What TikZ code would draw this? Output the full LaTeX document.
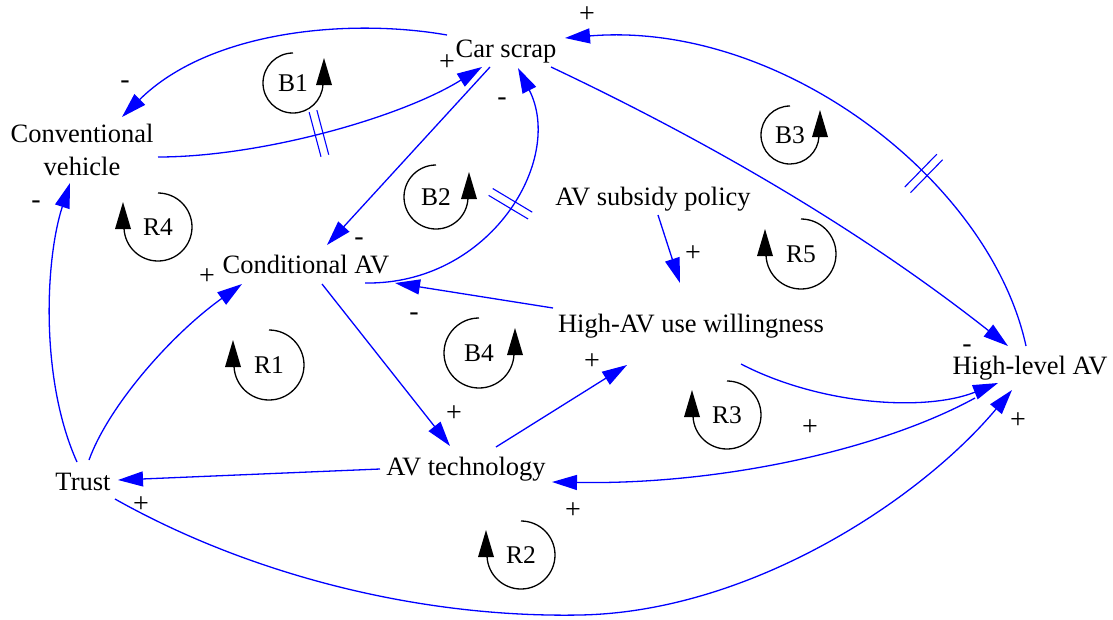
\documentclass[tikz,border=0pt]{standalone}
\usepackage{fontspec}
\setmainfont{Liberation Serif}
\usetikzlibrary{arrows.meta,decorations.markings}

\tikzset{
  var/.style={inner sep=0pt, anchor=base, font=\fontsize{26.5}{33}\selectfont},
  pol/.style={inner sep=0pt, font=\fontsize{28}{32}\selectfont},
  link/.style={draw=blue, line width=1.3pt, -{Triangle[length=25pt,width=15pt]}},
  delaymark/.style={postaction={decorate}, decoration={markings,
      mark=at position #1 with {\draw[blue, line width=1.1pt, -] (-4,-23) -- (-4,23) (4,-23) -- (4,23);}}},
  loopline/.style={draw=black, line width=1.3pt},
  looplabel/.style={inner sep=0pt, font=\fontsize{25.5}{30}\selectfont},
  % balancing loop: counter-clockwise with the head on the right
  pics/bloop/.style args={#1/#2}{code={
      \draw[loopline] (90:#1pt) arc[start angle=90, end angle=357, radius=#1pt];
      \fill (#1pt,0pt) ++(-7pt,-2pt) -- ++(16pt,0pt) -- ++(-8pt,27pt) -- cycle;
      \node[looplabel] (-lbl) {#2};
  }},
  % reinforcing loop: clockwise with the head on the left
  pics/rloop/.style args={#1/#2}{code={
      \draw[loopline] (90:#1pt) arc[start angle=90, end angle=-177, radius=#1pt];
      \fill (-#1pt,0pt) ++(-9pt,-2pt) -- ++(16pt,0pt) -- ++(-8pt,27pt) -- cycle;
      \node[looplabel] (-lbl) {#2};
  }}
}

\begin{document}
\begin{tikzpicture}[x=1pt, y=-1pt]
\useasboundingbox (0,0) rectangle (1113,619);
\fill[white] (0,0) rectangle (1113,619);

% variables
\node[var] (cs)  at (506,57)  {Car scrap};
\node[inner sep=0pt, align=center, font=\fontsize{26.5}{33}\selectfont] (cv) at (82,150) {Conventional\\vehicle};
\node[var] (cav) at (306,273) {Conditional AV};
\node[var] (sub) at (653,205) {AV subsidy policy};
\node[var] (w)   at (691,332) {High-AV use willingness};
\node[var] (hl)  at (1030,374) {High-level AV};
\node[var] (t)   at (83,490)  {Trust};
\node[var] (avt) at (466,475) {AV technology};

% causal links
\draw[link] ([shift={(-59,-22)}]cs.base) .. controls +(-97,-17) and +(88,-87) .. ([shift={(40,-33)}]cv.center);
\draw[link, delaymark=0.48] ([shift={(76,7)}]cv.center) .. controls +(102,0) and +(-82,51) .. ([shift={(-24,10)}]cs.base);
\draw[link] ([shift={(-16,10)}]cs.base) -- ([shift={(21,-28)}]cav.base);
\draw[link, delaymark=0.55] ([shift={(59,10)}]cav.base) .. controls +(125,2) and +(47,92) .. ([shift={(12,11)}]cs.base);
\draw[link] ([shift={(45,10)}]cs.base) .. controls +(165,78) and +(-142,-112) .. ([shift={(-22,-28)}]hl.base);
\draw[link, delaymark=0.34] ([shift={(-4,-28)}]hl.base) .. controls +(-36,-166) and +(215,-18) .. ([shift={(59,-19)}]cs.base);
\draw[link] ([shift={(5,10)}]sub.base) -- ([shift={(-11,-49)}]w.base);
\draw[link] ([shift={(-138,-24)}]w.base) -- ([shift={(89,10)}]cav.base);
\draw[link] ([shift={(50,32)}]w.base) .. controls +(79,41) and +(-73,29) .. ([shift={(-32,9)}]hl.base);
\draw[link] ([shift={(-6,-28)}]t.base) .. controls +(-37,-82) and +(-25,77) .. ([shift={(-12,33)}]cv.center);
\draw[link] ([shift={(6,-30)}]t.base) .. controls +(20,-55) and +(-70,50) .. ([shift={(-64,11)}]cav.base);
\draw[link] ([shift={(16,11)}]cav.base) -- ([shift={(-16,-29)}]avt.base);
\draw[link] ([shift={(30,-28)}]avt.base) -- ([shift={(-64,33)}]w.base);
\draw[link] ([shift={(-86,-6)}]avt.base) -- ([shift={(35,-10)}]t.base);
\draw[link] ([shift={(-55,24)}]hl.base) .. controls +(-95,52) and +(168,3) .. ([shift={(86,7)}]avt.base);
\draw[link] ([shift={(32,9)}]t.base) .. controls +(135,76) and +(-160,3) .. (580,615)
            .. controls +(170,-3) and +(-92,110) .. ([shift={(-18,16)}]hl.base);

% polarities
\node[pol] (p1)  at (587,15)  {+};
\node[pol] (p2)  at (125,85)  {-};
\node[pol] (p3)  at (447,63)  {+};
\node[pol] (p4)  at (502,102) {-};
\node[pol] (p5)  at (36,205)  {-};
\node[pol] (p6)  at (359,242) {-};
\node[pol] (p7)  at (207,277) {+};
\node[pol] (p8)  at (693,254) {+};
\node[pol] (p9)  at (414,317) {-};
\node[pol] (p10) at (592,362) {+};
\node[pol] (p11) at (967,349) {-};
\node[pol] (p12) at (454,414) {+};
\node[pol] (p13) at (810,428) {+};
\node[pol] (p14) at (1018,421) {+};
\node[pol] (p15) at (573,511) {+};
\node[pol] (p16) at (141,505) {+};

% loop identifiers
\pic (b1) at (293,83)  {bloop=30/B1};
\pic (b2) at (436,197) {bloop=32/B2};
\pic (b3) at (790,135) {bloop=29/B3};
\pic (b4) at (479,353) {bloop=35/B4};
\pic (r1) at (269,365) {rloop=35/R1};
\pic (r2) at (521,555) {rloop=34/R2};
\pic (r3) at (727,415) {rloop=34/R3};
\pic (r4) at (158,227) {rloop=34/R4};
\pic (r5) at (801,254) {rloop=35/R5};
\end{tikzpicture}
\end{document}
